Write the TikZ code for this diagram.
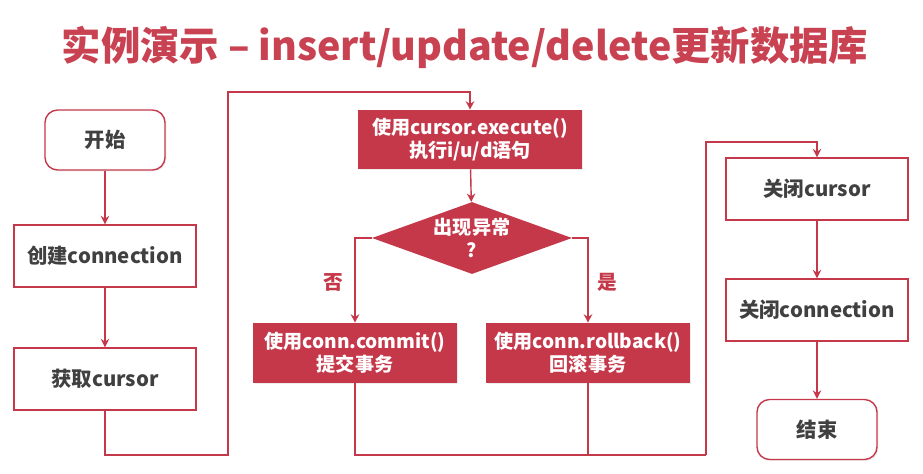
\documentclass[tikz,border=0pt]{standalone}
\usepackage{fontspec}
\setmainfont{Noto Sans CJK SC}
\usepackage{tikz}
\usepackage{xcolor}
\usetikzlibrary{shapes,arrows,positioning,shadows,calc,shapes.geometric,arrows.meta}
\definecolor{rosso}{RGB}{197,56,74}
\definecolor{titrosso}{RGB}{200,66,82}
\definecolor{grigio}{RGB}{64,64,64}

\begin{document}
\begin{tikzpicture}[x=0.025cm, y=-0.025cm,
    testo/.style={font=\bfseries\fontsize{14.5}{17}\selectfont},
    testor/.style={font=\bfseries\fontsize{13.6}{16.5}\selectfont},
    wbox/.style={testo, draw=rosso, line width=1pt, fill=white, text=grigio, rectangle, minimum width=4.55cm, minimum height=1.55cm, drop shadow={shadow xshift=1pt, shadow yshift=-1pt, fill=black!15}},
    term/.style={wbox, rounded corners=9pt, minimum width=3cm, minimum height=1.5cm},
    rbox/.style={testor, fill=rosso, text=white, align=center, rectangle, inner sep=2pt, drop shadow={shadow xshift=1pt, shadow yshift=-1pt, fill=black!15}},
    rombo/.style={diamond, fill=rosso, minimum width=5cm, minimum height=1.8cm, inner sep=0pt, aspect=2.8},
    etich/.style={font=\bfseries\fontsize{14}{16}\selectfont, text=rosso},
    linea/.style={draw=rosso, line width=1pt},
    freccia/.style={linea, -{Stealth[length=6pt, width=6pt]}}]
				\useasboundingbox (0,0) rectangle (923,474);
				
				% Titolo
				\node[font=\bfseries\fontsize{28}{32}\selectfont, text=titrosso] (title) at (465,47) {实例演示 – insert/update/delete更新数据库};
				
				% Colonna sinistra
				\node[term] (start) at (105,140) {开始};
				\node[wbox] (conn) at (105,256) {创建connection};
				\node[wbox] (cur) at (105,379) {获取cursor};
				
				% Colonna centrale
				\node[rbox, minimum width=5.6cm, minimum height=1.475cm] (exec) at (470,139.5) {使用cursor.execute()\\执行i/u/d语句};
				\node[rombo] (cond) at (472,238) {};
				\node[testor, text=white, align=center] (condtxt) at (472,238) {出现异常\\?};
				\node[rbox, minimum width=5.08cm, minimum height=1.5cm] (commit) at (355,353) {使用conn.commit()\\提交事务};
				\node[rbox, minimum width=5.08cm, minimum height=1.5cm] (rollback) at (588,353) {使用conn.rollback()\\回滚事务};
				\node[etich] (no) at (333,282) {否};
				\node[etich] (si) at (607,282) {是};
				
				% Colonna destra
				\node[wbox] (ccur) at (817,189) {关闭cursor};
				\node[wbox] (cconn) at (817,310) {关闭connection};
				\node[term] (end) at (817,429.5) {结束};
				
				% Punti di svolta
				\coordinate (k1) at (228,455);
				\coordinate (k2) at (228,92);
				\coordinate (k3) at (706,455);
				\coordinate (k4) at (706,142);
				
				% Collegamenti
				\draw[freccia] (start) -- (conn);
				\draw[freccia] (conn) -- (cur);
				\draw[freccia] (cur.south) |- (k1) -- (k2) -| (exec.north);
				\draw[freccia] (exec) -- (cond);
				\draw[freccia] (cond.west) -| (commit.north);
				\draw[freccia] (cond.east) -| (rollback.north);
				\draw[linea] (commit.south) |- (k3);
				\draw[linea] (rollback.south) -- (rollback.south |- k3);
				\draw[freccia] (k3) -- (k4) -| (ccur.north);
				\draw[freccia] (ccur) -- (cconn);
				\draw[freccia] (cconn) -- (end);
			\end{tikzpicture}
\end{document}
